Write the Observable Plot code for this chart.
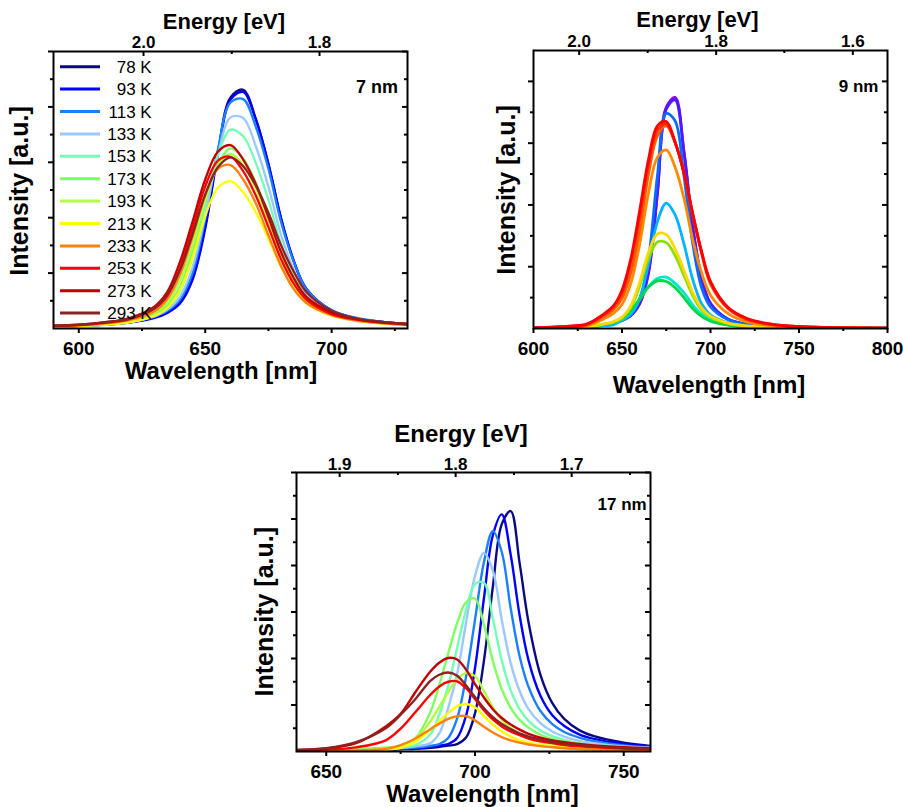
<!DOCTYPE html>
<html><head><meta charset="utf-8">
<script src="https://cdn.jsdelivr.net/npm/d3@7"></script>
<script src="https://cdn.jsdelivr.net/npm/@observablehq/plot@0.6"></script>
<style>
body{margin:0;background:#fff;}
#root{position:relative;width:903px;height:807px;overflow:hidden;background:#fff;font-family:"Liberation Sans",Arial,sans-serif;}
.panel{position:absolute;}
#overlay{position:absolute;left:0;top:0;pointer-events:none;}
</style></head><body><div id="root"></div>
<script>
// ---------- shared ----------
const temps = ["78 K","93 K","113 K","133 K","153 K","173 K","193 K","213 K","233 K","253 K","273 K","293 K"];
const colorsJet = ["#0a0a86","#0000ff","#1a80ff","#9dc8ff","#72ffb6","#80ff62","#b2ff40","#ffff00","#ff8010","#ff0000","#c20000","#8c2222"];
const colorsRainbow = ["#8a00ff","#4a1cff","#0a6cff","#00b4ff","#00e6c8","#00d84a","#88e000","#ffd800","#ff8a00","#ff5a00","#ff2a00","#ff0000"];

// ---------- panel 7 nm ----------
const wl7 = [590,600,610,620,630,635,640,645,650,655,660,665,670,675,680,685,690,700,710,720,730];
const int7 = [
  [0.035,0.047,0.069,0.11,0.20,0.29,0.47,0.91,1.85,3.17,4.17,4.31,3.79,2.97,1.98,1.21,0.71,0.32,0.18,0.12,0.08],
  [0.034,0.046,0.067,0.105,0.19,0.28,0.45,0.88,1.80,3.13,4.13,4.27,3.77,2.97,1.99,1.23,0.72,0.33,0.18,0.12,0.08],
  [0.038,0.05,0.071,0.11,0.22,0.32,0.52,1.0,1.98,3.23,4.08,4.14,3.64,2.88,1.92,1.21,0.71,0.33,0.19,0.12,0.08],
  [0.038,0.05,0.073,0.12,0.22,0.34,0.57,1.11,2.04,3.13,3.81,3.80,3.29,2.56,1.69,1.06,0.61,0.30,0.17,0.11,0.07],
  [0.04,0.055,0.076,0.13,0.25,0.38,0.67,1.30,2.24,3.13,3.59,3.47,2.99,2.32,1.53,0.95,0.57,0.28,0.16,0.10,0.07],
  [0.04,0.055,0.08,0.13,0.27,0.42,0.75,1.40,2.28,2.96,3.25,3.07,2.63,2.0,1.33,0.83,0.51,0.25,0.15,0.10,0.065],
  [0.04,0.057,0.086,0.15,0.30,0.47,0.87,1.50,2.33,2.93,3.15,2.95,2.52,1.92,1.29,0.82,0.51,0.26,0.15,0.10,0.066],
  [0.032,0.043,0.064,0.11,0.23,0.37,0.69,1.27,2.03,2.54,2.66,2.46,2.10,1.62,1.11,0.73,0.46,0.23,0.14,0.09,0.064],
  [0.04,0.056,0.089,0.15,0.31,0.53,0.97,1.65,2.40,2.88,2.95,2.69,2.26,1.68,1.13,0.71,0.46,0.24,0.14,0.095,0.065],
  [0.047,0.062,0.10,0.17,0.36,0.59,1.09,1.81,2.56,3.03,3.10,2.84,2.40,1.83,1.25,0.81,0.52,0.26,0.16,0.105,0.072],
  [0.053,0.07,0.11,0.19,0.40,0.66,1.20,1.93,2.69,3.19,3.31,3.05,2.61,2.01,1.38,0.91,0.57,0.29,0.17,0.11,0.08],
  [0.052,0.068,0.11,0.18,0.37,0.61,1.05,1.70,2.42,2.91,3.09,2.93,2.58,2.09,1.50,1.03,0.66,0.32,0.18,0.12,0.085]
];
const xMajor7 = [600,650,700], xMinor7 = [625,675,725];
const eLabel7 = ["2.0","1.8"], eMajorWl7 = [625.6,695.2], eMinorWl7 = [660.5];

// ---------- panel 9 nm ----------
const wl9 = [600,620,630,640,645,650,655,660,665,670,675,680,685,690,695,700,710,720,730,740,760,800];
const int9 = [
  [0.01,0.02,0.035,0.06,0.08,0.13,0.21,0.40,0.90,2.18,3.58,3.74,2.86,1.62,0.80,0.40,0.15,0.07,0.04,0.025,0.012,0.004],
  [0.01,0.02,0.035,0.06,0.08,0.13,0.21,0.41,0.92,2.20,3.55,3.70,2.86,1.65,0.82,0.41,0.15,0.07,0.04,0.025,0.012,0.004],
  [0.01,0.02,0.035,0.065,0.09,0.14,0.23,0.47,1.13,2.47,3.48,3.36,2.47,1.37,0.66,0.35,0.14,0.065,0.035,0.022,0.01,0.004],
  [0.008,0.015,0.025,0.045,0.06,0.13,0.23,0.49,1.05,1.73,2.03,1.84,1.37,0.79,0.40,0.22,0.09,0.045,0.025,0.016,0.008,0.003],
  [0.004,0.01,0.018,0.058,0.089,0.15,0.28,0.47,0.68,0.81,0.83,0.73,0.58,0.38,0.23,0.136,0.06,0.03,0.018,0.012,0.006,0.002],
  [0.004,0.01,0.02,0.061,0.094,0.156,0.29,0.48,0.67,0.77,0.76,0.66,0.50,0.32,0.195,0.117,0.055,0.028,0.017,0.011,0.005,0.002],
  [0.005,0.013,0.025,0.07,0.10,0.17,0.34,0.69,1.13,1.40,1.39,1.18,0.86,0.53,0.30,0.18,0.08,0.04,0.022,0.014,0.006,0.002],
  [0.005,0.014,0.027,0.076,0.11,0.185,0.37,0.75,1.23,1.53,1.52,1.29,0.94,0.58,0.33,0.20,0.087,0.044,0.024,0.015,0.007,0.002],
  [0.008,0.025,0.045,0.16,0.24,0.39,0.73,1.37,2.20,2.77,2.89,2.61,2.11,1.43,0.90,0.54,0.24,0.11,0.06,0.035,0.015,0.004],
  [0.01,0.03,0.055,0.20,0.30,0.49,0.90,1.60,2.50,3.12,3.28,3.01,2.52,1.84,1.22,0.72,0.32,0.15,0.08,0.045,0.018,0.005],
  [0.01,0.035,0.065,0.23,0.35,0.57,1.07,1.81,2.66,3.21,3.31,3.01,2.52,1.85,1.23,0.75,0.33,0.16,0.085,0.05,0.02,0.005],
  [0.012,0.04,0.07,0.24,0.36,0.62,1.13,1.91,2.74,3.28,3.35,3.02,2.52,1.85,1.24,0.76,0.34,0.17,0.09,0.05,0.02,0.006]
];
const xMajor9 = [600,650,700,750,800], xMinor9 = [625,675,725,775];
const eLabel9 = ["2.0","1.8","1.6"], eMajorWl9 = [625.8,703.2,780.4], eMinorWl9 = [664.5,741.7];

// ---------- panel 17 nm ----------
const wl17 = [640,650,660,670,675,680,685,688,691,694,697,700,703,706,709,712,715,718,722,726,730,735,740,750,759];
const int17 = [
  [0.016,0.018,0.023,0.036,0.047,0.059,0.078,0.099,0.125,0.16,0.30,0.82,1.95,3.54,4.89,5.17,4.05,2.78,1.65,1.04,0.70,0.46,0.33,0.19,0.12],
  [0.015,0.02,0.026,0.044,0.056,0.072,0.097,0.13,0.16,0.29,0.77,1.79,3.29,4.65,5.10,4.23,2.93,1.96,1.20,0.78,0.55,0.37,0.27,0.16,0.11],
  [0.017,0.021,0.033,0.052,0.063,0.086,0.124,0.16,0.29,0.71,1.61,2.83,4.07,4.74,4.29,3.08,2.05,1.39,0.87,0.59,0.42,0.30,0.22,0.13,0.09],
  [0.019,0.028,0.039,0.06,0.08,0.11,0.18,0.39,0.94,1.67,2.77,3.77,4.27,3.89,2.83,1.90,1.30,0.91,0.61,0.43,0.32,0.23,0.18,0.11,0.08],
  [0.02,0.03,0.045,0.067,0.093,0.14,0.37,0.80,1.41,2.23,3.04,3.60,3.63,2.86,1.96,1.32,0.91,0.66,0.45,0.33,0.25,0.18,0.14,0.088,0.063],
  [0.025,0.036,0.05,0.086,0.12,0.29,0.85,1.43,2.11,2.76,3.21,3.29,2.73,1.95,1.34,0.94,0.68,0.51,0.36,0.27,0.21,0.16,0.12,0.08,0.058],
  [0.015,0.022,0.032,0.053,0.097,0.27,0.65,0.96,1.28,1.55,1.69,1.62,1.30,0.95,0.68,0.50,0.37,0.29,0.21,0.16,0.12,0.095,0.075,0.05,0.036],
  [0.01,0.014,0.021,0.038,0.08,0.21,0.47,0.65,0.83,0.97,1.02,0.95,0.76,0.58,0.43,0.32,0.24,0.19,0.14,0.11,0.087,0.066,0.053,0.035,0.026],
  [0.01,0.014,0.022,0.054,0.135,0.28,0.48,0.60,0.70,0.76,0.76,0.67,0.53,0.41,0.31,0.24,0.19,0.15,0.115,0.09,0.07,0.054,0.043,0.03,0.022],
  [0.024,0.04,0.09,0.24,0.49,0.85,1.22,1.40,1.50,1.51,1.36,1.13,0.89,0.69,0.54,0.43,0.35,0.28,0.22,0.18,0.14,0.11,0.093,0.064,0.05],
  [0.036,0.065,0.18,0.54,0.81,1.28,1.72,1.91,2.01,1.98,1.76,1.45,1.16,0.91,0.72,0.58,0.47,0.38,0.30,0.24,0.20,0.16,0.13,0.09,0.07],
  [0.035,0.07,0.20,0.50,0.79,1.13,1.52,1.65,1.70,1.63,1.42,1.17,0.93,0.74,0.59,0.48,0.39,0.32,0.26,0.21,0.17,0.14,0.11,0.075,0.058]
];
const xMajor17 = [650,700,750], xMinor17 = [675,725];
const eLabel17 = ["1.9","1.8","1.7"], eMajorWl17 = [654.5,693.5,732.5], eMinorWl17 = [674.1,713.1,752.1];

const FONT = '"Liberation Sans", Arial, sans-serif';
const root = document.getElementById("root");

function panel(o) {
  const rows = [];
  o.series.forEach((vals, i) => vals.forEach((v, j) => rows.push({wl: o.wl[j], I: v, T: temps[i], color: o.colors[i]})));
  const m = o.margin;
  const fw = o.width - m.left - m.right, fh = o.height - m.top - m.bottom;
  const yMajor = d3.range(o.yDomain[0] + 1, o.yDomain[1] + 0.001, 1);
  const yMinor = d3.range(o.yDomain[0] + 0.5, o.yDomain[1], 1);
  const chart = Plot.plot({
    width: o.width, height: o.height,
    marginLeft: m.left, marginRight: m.right, marginTop: m.top, marginBottom: m.bottom,
    x: {domain: o.xDomain, axis: null},
    y: {domain: o.yDomain, axis: null},
    style: {fontFamily: FONT, fontSize: "19px", fontWeight: "bold", background: "transparent", overflow: "visible"},
    marks: [
      Plot.line(rows, {x: "wl", y: "I", z: "T", stroke: "color", strokeWidth: o.lw, curve: "catmull-rom", clip: true}),
      Plot.frame({stroke: "black", strokeWidth: 2}),
      Plot.axisX({anchor: "bottom", ticks: o.xMajor, tickSize: 5, tickPadding: 8, strokeWidth: 2, tickFormat: d => String(d), label: null, fontSize: 19, fontWeight: "bold"}),
      Plot.axisX({anchor: "bottom", ticks: o.xMinor, tickSize: 3, strokeWidth: 2, tickFormat: () => "", label: null}),
      Plot.axisY({anchor: "left", ticks: yMajor, tickSize: 5, strokeWidth: 2, tickFormat: () => "", label: null}),
      Plot.axisY({anchor: "left", ticks: yMinor, tickSize: 3, strokeWidth: 2, tickFormat: () => "", label: null}),
      Plot.tickY(yMajor, {y: d => d, insetLeft: fw - 5, strokeWidth: 2}),
      Plot.tickY(yMinor, {y: d => d, insetLeft: fw - 3, strokeWidth: 2}),
      Plot.tickX(o.eMajorWl, {x: d => d, insetBottom: fh - 5, strokeWidth: 2}),
      Plot.tickX(o.eMinorWl, {x: d => d, insetBottom: fh - 3, strokeWidth: 2}),
      Plot.text(o.eMajorWl, {x: d => d, text: (d, i) => o.eLabel[i], frameAnchor: "top", lineAnchor: "middle", dy: o.eDy, fontSize: 17, fontWeight: "bold"})
    ]
  });
  const div = document.createElement("div");
  div.className = "panel";
  div.style.left = o.left + "px";
  div.style.top = o.top + "px";
  div.appendChild(chart);
  root.appendChild(div);
}

panel({wl: wl7, series: int7, colors: colorsJet, xDomain: [590, 730], yDomain: [0, 5],
  xMajor: xMajor7, xMinor: xMinor7, eMajorWl: eMajorWl7, eMinorWl: eMinorWl7, eLabel: eLabel7, eDy: -9,
  left: 0, top: 0, width: 420, height: 390, margin: {left: 53, right: 13, top: 51, bottom: 62}, lw: 2.3});
panel({wl: wl9, series: int9, colors: colorsRainbow, xDomain: [600, 800], yDomain: [0, 4.5],
  xMajor: xMajor9, xMinor: xMinor9, eMajorWl: eMajorWl9, eMinorWl: eMinorWl9, eLabel: eLabel9, eDy: -9,
  left: 490, top: 0, width: 413, height: 400, margin: {left: 43, right: 16, top: 50, bottom: 72}, lw: 2.8});
panel({wl: wl17, series: int17, colors: colorsJet, xDomain: [640, 759], yDomain: [0, 6],
  xMajor: xMajor17, xMinor: xMinor17, eMajorWl: eMajorWl17, eMinorWl: eMinorWl17, eLabel: eLabel17, eDy: -8,
  left: 240, top: 410, width: 420, height: 397, margin: {left: 56, right: 10, top: 62, bottom: 56}, lw: 2.4});

// ---------- overlay text & legend ----------
const svg = d3.select(root).append("svg").attr("id", "overlay").attr("width", 903).attr("height", 807)
  .style("font-family", FONT);
function label(x, y, text, size, opts = {}) {
  const t = svg.append("text").attr("x", x).attr("y", y).text(text)
    .attr("font-size", size).attr("font-weight", opts.weight || "bold")
    .attr("text-anchor", opts.anchor || "middle").attr("fill", "#000");
  if (opts.rotate) t.attr("x", 0).attr("y", 0).attr("transform", `translate(${x},${y}) rotate(-90)`);
  return t;
}
label(224, 29, "Energy [eV]", 22);
label(221, 379, "Wavelength [nm]", 24);
label(28, 191, "Intensity [a.u.]", 25, {rotate: true});
label(398, 93, "7 nm", 18, {anchor: "end"});

label(697.5, 27, "Energy [eV]", 22);
label(709, 393, "Wavelength [nm]", 24);
label(514.5, 190, "Intensity [a.u.]", 25, {rotate: true});
label(878.5, 91.5, "9 nm", 17, {anchor: "end"});

label(461, 441.5, "Energy [eV]", 24);
label(482.5, 802, "Wavelength [nm]", 24);
label(273, 611.7, "Intensity [a.u.]", 25, {rotate: true});
label(646.7, 510, "17 nm", 17, {anchor: "end"});

temps.forEach((t, i) => {
  const y = 66.7 + 22.4 * i;
  svg.append("line").attr("x1", 60).attr("x2", 100).attr("y1", y).attr("y2", y)
    .attr("stroke", colorsJet[i]).attr("stroke-width", 3);
  label(151.7, y + 6, t, 17, {anchor: "end", weight: "normal"});
});
</script></body></html>
